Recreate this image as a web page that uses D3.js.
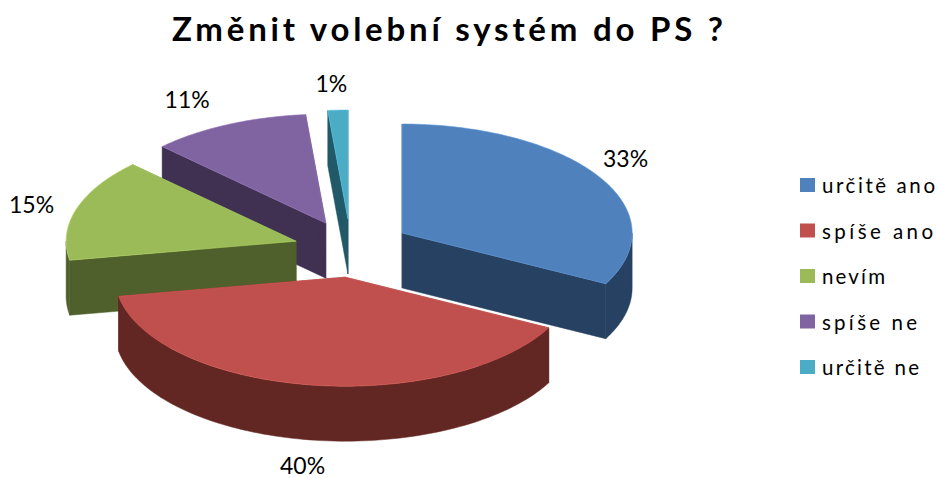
<!DOCTYPE html>
<html><head><meta charset="utf-8">
<script src="https://cdn.jsdelivr.net/npm/d3@7/dist/d3.min.js"></script>
<style>html,body{margin:0;padding:0;background:#fff}svg{display:block}text{font-family:Lato,Carlito,sans-serif;fill:#000}</style>
</head><body><svg id="c" width="937" height="478"></svg>
<script>
const titleText = "Změnit volební systém do PS ?";
const categories = ["určitě ano","spíše ano","nevím","spíše ne","určitě ne"];
const values = [32.7,39.5,15.2,11.2,1.4];
const topColors = ["#4f81bd","#c0504d","#9bbb59","#8064a2","#4bacc6"];
const sideColors = ["#264161","#622623","#4f602c","#403152","#215968"];
const drawOrder = [4,3,0,2,1];

const W=937,H=478,cx=352.5,cy=247.5,rx=230,ry=109,depth=55,ex=58,ey=28;
const sliceNudge=[[0,0],[1.5,2],[-1,2],[-2,1],[-2,-.5]];
const labelNudge=[[-3,-1],[-2,1],[-12,6],[-26,2],[-5,3]];
const legendWidths=[113,111,63,95,97];
const svg=d3.select("#c");
svg.append("text").attr("x",172).attr("y",41).attr("font-size",33).attr("font-weight",700)
  .attr("textLength",551).attr("lengthAdjust","spacing").text(titleText);

const arcs=d3.pie().sort(null).value(d=>d)(values);
const line=d3.line();
const pt=(a,c,dz=0)=>[c[0]+rx*Math.sin(a),c[1]-ry*Math.cos(a)+dz];
const range=(a,b)=>d3.range(0,97).map(i=>a+(b-a)*i/96);
const g=svg.append("g");
const slices=arcs.map((d,i)=>{const m=(d.startAngle+d.endAngle)/2;
  return {d,i,m,c:[cx+ex*Math.sin(m)+sliceNudge[i][0],cy-ey*Math.cos(m)+sliceNudge[i][1]]};});
drawOrder.forEach(i=>{
  const {d,c}=slices[i];
  const a0=d.startAngle,a1=d.endAngle;
  [a0,a1].forEach(a=>{
    const p=pt(a,c);
    g.append("path").attr("fill",sideColors[i]).attr("stroke",sideColors[i]).attr("stroke-width",.5)
     .attr("d",line([c,p,[p[0],p[1]+depth],[c[0],c[1]+depth]])+"Z");
  });
  const lo=Math.max(a0,Math.PI/2),hi=Math.min(a1,Math.PI*1.5);
  if(hi>lo){
    const as=range(lo,hi);
    g.append("path").attr("fill",sideColors[i]).attr("stroke",sideColors[i]).attr("stroke-width",.5)
     .attr("d",line(as.map(a=>pt(a,c)).concat(as.slice().reverse().map(a=>pt(a,c,depth))))+"Z");
  }
  g.append("path").attr("fill",topColors[i]).attr("stroke",d3.color(topColors[i]).brighter(.4)).attr("stroke-width",.6)
   .attr("d",line([c].concat(range(a0,a1).map(a=>pt(a,c))))+"Z");
});
slices.forEach(({d,i,m,c})=>{
  const below=Math.cos(m)<0;
  const x=c[0]+Math.sin(m)*rx*1.15+labelNudge[i][0];
  const y=c[1]-Math.cos(m)*ry*1.25+(below?depth:0)+labelNudge[i][1];
  svg.append("text").attr("x",x).attr("y",y).attr("text-anchor","middle").attr("dominant-baseline","middle")
   .attr("font-size",23).text(Math.round(values[i])+"%");
});
const ly=d3.scalePoint().domain(categories).range([185,367]);
const leg=svg.append("g").selectAll("g").data(categories).join("g").attr("transform",d=>`translate(800,${ly(d)})`);
leg.append("rect").attr("x",0).attr("y",-7).attr("width",15).attr("height",14).attr("fill",(d,i)=>topColors[i]);
leg.append("text").attr("x",22).attr("y",8).attr("font-size",20.5).attr("textLength",(d,i)=>legendWidths[i]).attr("lengthAdjust","spacing").text(d=>d);
</script></body></html>
